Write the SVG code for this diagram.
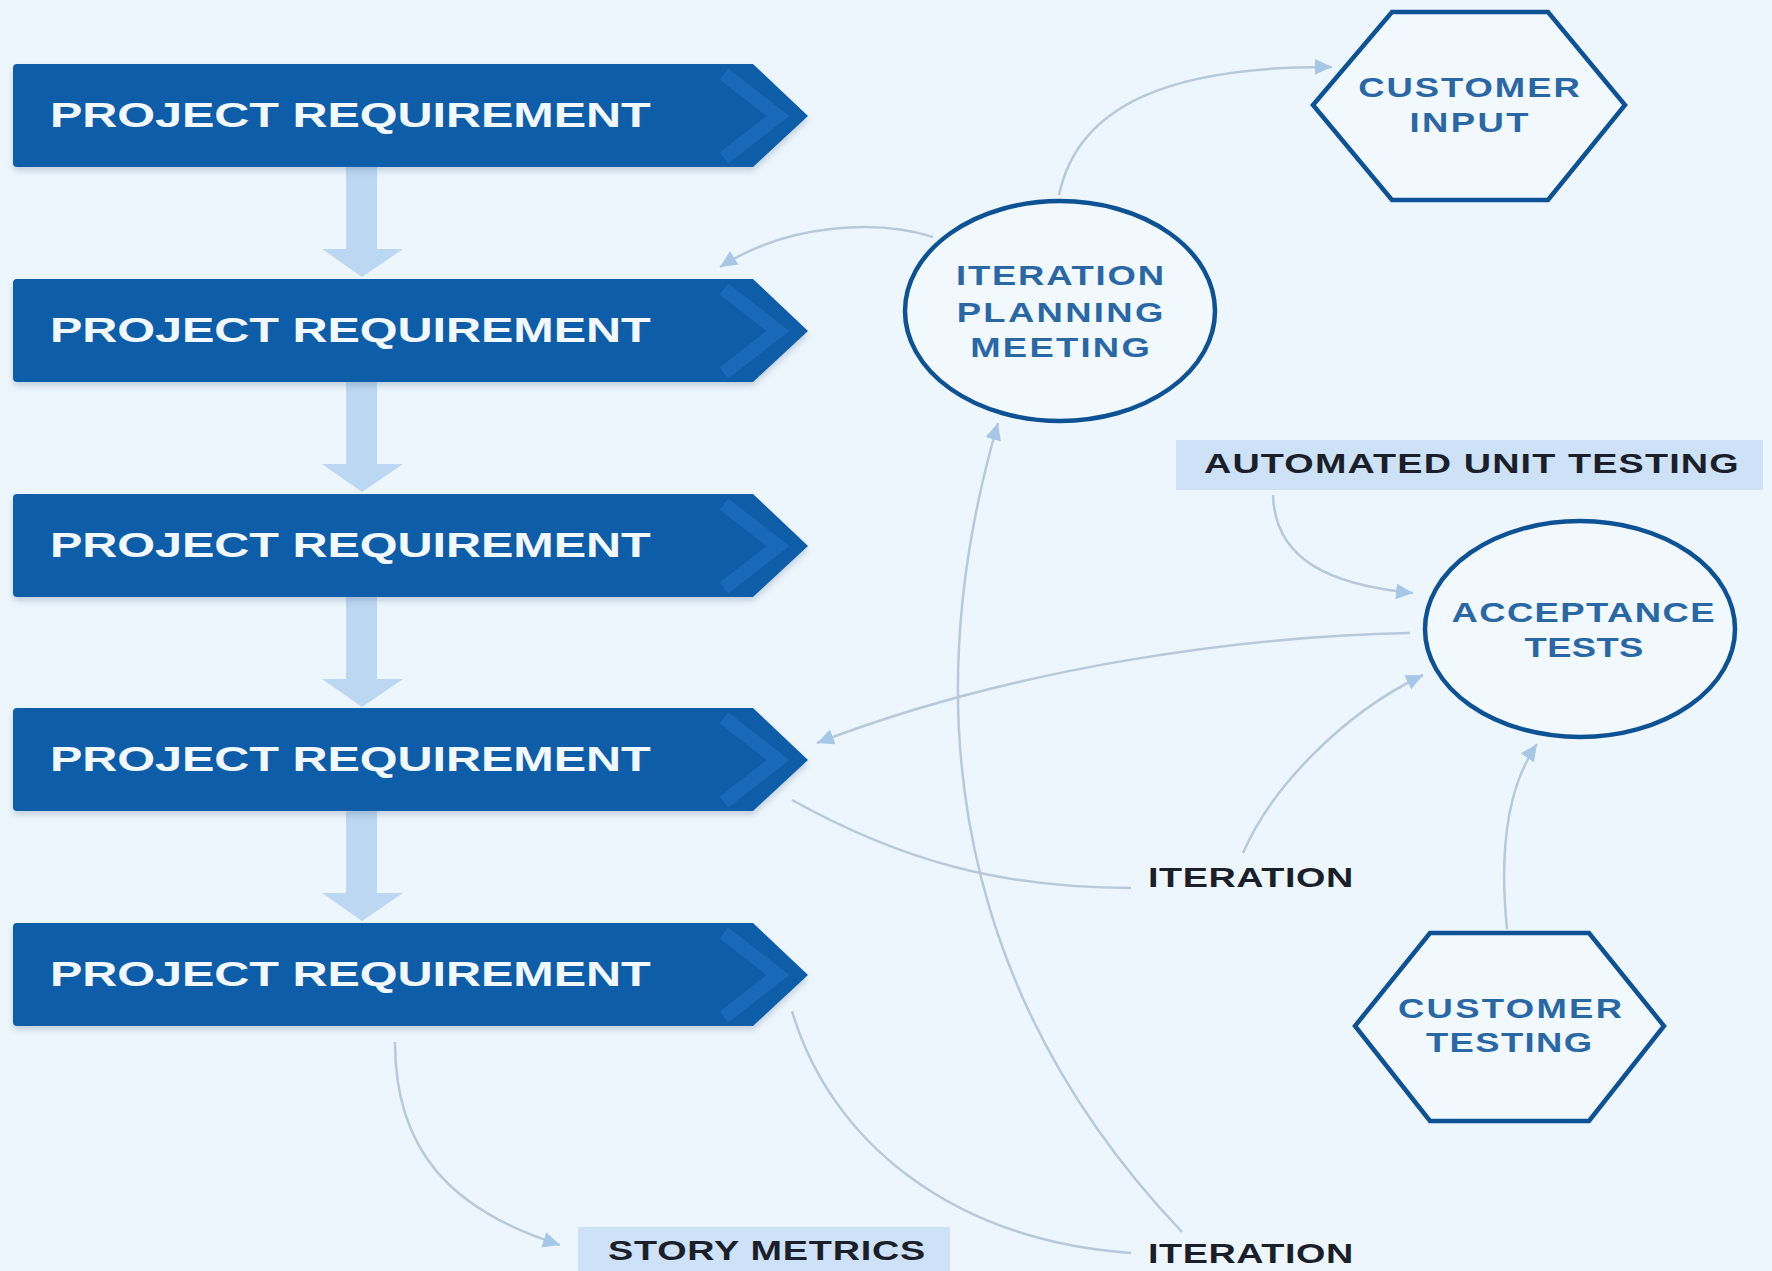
<svg xmlns="http://www.w3.org/2000/svg" width="1772" height="1271" viewBox="0 0 1772 1271">
<style>
.bn{fill:#0c5da8}
.chev{fill:none;stroke:#2a80d2;stroke-width:14;stroke-opacity:0.4;stroke-linejoin:miter}
.bt{font-family:"Liberation Sans",Arial,sans-serif;font-weight:bold;font-size:36px;fill:#f2f8ff}
.nd{fill:#f1f8fe;stroke:#0d5294;stroke-width:4.5}
.nt{font-family:"Liberation Sans",Arial,sans-serif;font-weight:bold;font-size:27px;fill:#2a67a5;text-anchor:middle}
.lb{font-family:"Liberation Sans",Arial,sans-serif;font-weight:bold;font-size:28px;fill:#1b1f2a}
.box{fill:#cde2f6}
.cn{fill:none;stroke:#b7c9da;stroke-width:2.5;marker-end:url(#ah)}
.da{fill:#bcd7f2}
</style>
<defs>
<marker id="ah" markerUnits="userSpaceOnUse" markerWidth="20" markerHeight="18" refX="17" refY="8" orient="auto">
<path d="M0,0 L17,8 L0,16 Z" fill="#a7c7e7"/>
</marker>
<filter id="sh" x="-5%" y="-10%" width="110%" height="130%">
<feDropShadow dx="0" dy="4" stdDeviation="3" flood-color="#5a7a99" flood-opacity="0.3"/>
</filter>
</defs>
<rect width="1772" height="1271" fill="#eef6fd"/>

<g id="down-arrows">
<path class="da" d="M346,167 H377 V249 H403 L362,277 L322,249 H346 Z"/>
<path class="da" d="M346,382 H377 V464 H403 L362,492 L322,464 H346 Z"/>
<path class="da" d="M346,597 H377 V679 H403 L362,707 L322,679 H346 Z"/>
<path class="da" d="M346,811 H377 V893 H403 L362,921 L322,893 H346 Z"/>
</g>

<g id="connectors">
<path class="cn" d="M1059,195 C1078,105 1170,66 1332,67"/>
<path class="cn" d="M933,237 C880,220 790,222 720,267"/>
<path class="cn" d="M1410,633 C1250,636 1020,665 817,743"/>
<path class="cn" d="M792,800 C900,860 1000,888 1131,888" style="marker-end:none"/>
<path class="cn" d="M1243,853 C1270,790 1340,715 1423,675"/>
<path class="cn" d="M792,1011 C830,1140 950,1240 1131,1253" style="marker-end:none"/>
<path class="cn" d="M1182,1232 C990,1030 900,760 998,423"/>
<path class="cn" d="M1507,929 C1500,860 1505,790 1537,744"/>
<path class="cn" d="M1273,495 C1275,560 1330,585 1413,593"/>
<path class="cn" d="M395,1042 C395,1150 450,1210 560,1245"/>
</g>

<g id="req1">
<path class="bn" filter="url(#sh)" d="M17,64 H753 L808,116 L753,167 H17 Q13,167 13,163 V68 Q13,64 17,64 Z"/>
<path class="chev" d="M724,74 L778,116 L724,158"/>
<text class="bt" transform="translate(50,127) scale(1.35,1)" textLength="445" lengthAdjust="spacing">PROJECT REQUIREMENT</text>
</g>
<g id="req2">
<path class="bn" filter="url(#sh)" d="M17,279 H753 L808,331 L753,382 H17 Q13,382 13,378 V283 Q13,279 17,279 Z"/>
<path class="chev" d="M724,289 L778,331 L724,373"/>
<text class="bt" transform="translate(50,342) scale(1.35,1)" textLength="445" lengthAdjust="spacing">PROJECT REQUIREMENT</text>
</g>
<g id="req3">
<path class="bn" filter="url(#sh)" d="M17,494 H753 L808,546 L753,597 H17 Q13,597 13,593 V498 Q13,494 17,494 Z"/>
<path class="chev" d="M724,504 L778,546 L724,588"/>
<text class="bt" transform="translate(50,557) scale(1.35,1)" textLength="445" lengthAdjust="spacing">PROJECT REQUIREMENT</text>
</g>
<g id="req4">
<path class="bn" filter="url(#sh)" d="M17,708 H753 L808,760 L753,811 H17 Q13,811 13,807 V712 Q13,708 17,708 Z"/>
<path class="chev" d="M724,718 L778,760 L724,802"/>
<text class="bt" transform="translate(50,771) scale(1.35,1)" textLength="445" lengthAdjust="spacing">PROJECT REQUIREMENT</text>
</g>
<g id="req5">
<path class="bn" filter="url(#sh)" d="M17,923 H753 L808,975 L753,1026 H17 Q13,1026 13,1022 V927 Q13,923 17,923 Z"/>
<path class="chev" d="M724,933 L778,975 L724,1017"/>
<text class="bt" transform="translate(50,986) scale(1.35,1)" textLength="445" lengthAdjust="spacing">PROJECT REQUIREMENT</text>
</g>

<g id="planning">
<ellipse class="nd" cx="1060" cy="311" rx="155" ry="110"/>
<text class="nt" transform="translate(1060,285) scale(1.35,1)" textLength="154" lengthAdjust="spacing">ITERATION</text>
<text class="nt" transform="translate(1060,322) scale(1.35,1)" textLength="153" lengthAdjust="spacing">PLANNING</text>
<text class="nt" transform="translate(1060,357) scale(1.35,1)" textLength="133" lengthAdjust="spacing">MEETING</text>
</g>

<g id="customer-input">
<polygon class="nd" points="1392,12 1548,12 1625,105 1548,200 1392,200 1313,105"/>
<text class="nt" transform="translate(1469,97) scale(1.35,1)" textLength="164" lengthAdjust="spacing">CUSTOMER</text>
<text class="nt" transform="translate(1469,132) scale(1.35,1)" textLength="88" lengthAdjust="spacing">INPUT</text>
</g>

<g id="automated">
<rect class="box" x="1176" y="440" width="587" height="50"/>
<text class="lb" transform="translate(1204,473) scale(1.35,1)" textLength="396" lengthAdjust="spacing">AUTOMATED UNIT TESTING</text>
</g>

<g id="acceptance">
<ellipse class="nd" cx="1580" cy="629" rx="155" ry="108"/>
<text class="nt" transform="translate(1583,622) scale(1.35,1)" textLength="195" lengthAdjust="spacing">ACCEPTANCE</text>
<text class="nt" transform="translate(1584,657) scale(1.35,1)" textLength="88" lengthAdjust="spacing">TESTS</text>
</g>

<g id="iteration1">
<text class="lb" transform="translate(1148,887) scale(1.35,1)" textLength="152" lengthAdjust="spacing">ITERATION</text>
</g>

<g id="customer-testing">
<polygon class="nd" points="1430,933 1589,933 1664,1026 1589,1121 1430,1121 1355,1026"/>
<text class="nt" transform="translate(1510,1018) scale(1.35,1)" textLength="166" lengthAdjust="spacing">CUSTOMER</text>
<text class="nt" transform="translate(1509,1052) scale(1.35,1)" textLength="123" lengthAdjust="spacing">TESTING</text>
</g>

<g id="story-metrics">
<rect class="box" x="578" y="1227" width="372" height="50"/>
<text class="lb" transform="translate(608,1260) scale(1.35,1)" textLength="235" lengthAdjust="spacing">STORY METRICS</text>
</g>

<g id="iteration2">
<text class="lb" transform="translate(1148,1263) scale(1.35,1)" textLength="152" lengthAdjust="spacing">ITERATION</text>
</g>
</svg>
